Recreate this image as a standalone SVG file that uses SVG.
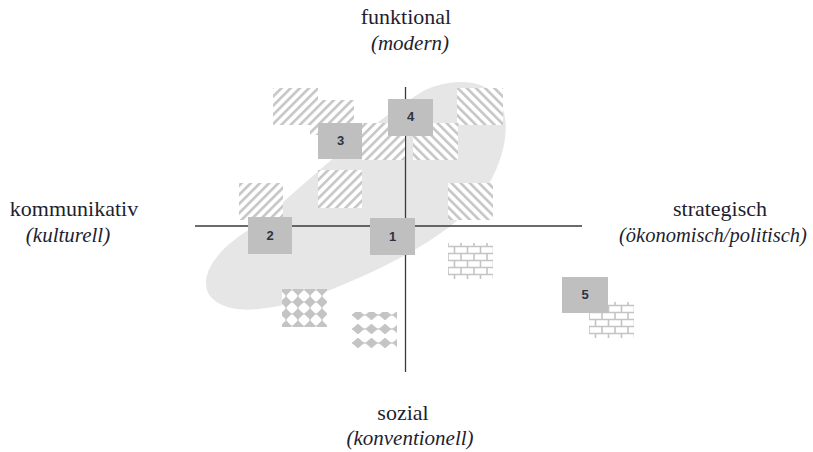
<svg xmlns="http://www.w3.org/2000/svg" width="813" height="452" viewBox="0 0 813 452">
  <defs>
    <!-- diagonal hatch, lines rising to the right -->
    <pattern id="hatchFwd" width="6.5" height="6.5" patternUnits="userSpaceOnUse" patternTransform="rotate(45)">
      <rect width="6.5" height="6.5" fill="#ffffff"/>
      <rect width="2.6" height="6.5" fill="#c6c6c6"/>
    </pattern>
    <!-- diagonal hatch, lines falling to the right -->
    <pattern id="hatchBwd" width="6.5" height="6.5" patternUnits="userSpaceOnUse" patternTransform="rotate(-45)">
      <rect width="6.5" height="6.5" fill="#ffffff"/>
      <rect width="2.6" height="6.5" fill="#c6c6c6"/>
    </pattern>
    <!-- brick wall -->
    <pattern id="brick" width="13" height="14" patternUnits="userSpaceOnUse">
      <rect width="13" height="14" fill="#ffffff"/>
      <path d="M0 3.5H13M0 10.5H13M6.5 3.5V10.5M0 0V3.5M0 10.5V14M13 0V3.5M13 10.5V14" stroke="#c4c4c4" stroke-width="1.6" fill="none"/>
    </pattern>
    <!-- chained diamonds -->
    <pattern id="chainA" x="-2" y="-5" width="12" height="12" patternUnits="userSpaceOnUse">
      <rect width="12" height="12" fill="#ffffff"/>
      <polygon points="6,1.2 10.8,6 6,10.8 1.2,6" fill="#c4c4c4" stroke="#c4c4c4" stroke-width="1.2" stroke-linejoin="round"/>
      <path d="M0 6H12M6 0V12" stroke="#c4c4c4" stroke-width="1"/>
    </pattern>
    <!-- chained diamonds on horizontal threads -->
    <pattern id="chainB" x="-0.75" y="-4" width="13.5" height="14" patternUnits="userSpaceOnUse">
      <rect width="13.5" height="14" fill="#ffffff"/>
      <polygon points="6.75,2.5 12,7 6.75,11.5 1.5,7" fill="#c4c4c4" stroke="#c4c4c4" stroke-width="1.2" stroke-linejoin="round"/>
      <path d="M0 7H13.5" stroke="#c4c4c4" stroke-width="1.2"/>
    </pattern>
  </defs>

  <!-- shaded zone -->
  <path id="zone" d="M206,283 C206,262 230,240 257,225 C300,188 370,122 425,90 C452,78 486,78 499,100 C512,122 506,160 482,195 C456,230 400,262 330,290 C290,306 245,316 222,305 C210,299 206,292 206,283 Z" fill="#e6e6e6"/>

  <!-- axes -->
  <g id="axes" stroke="#3a3a3a" stroke-width="1.3" fill="none">
    <line x1="195" y1="226" x2="582" y2="226"/>
    <line x1="405.5" y1="87" x2="405.5" y2="372"/>
  </g>

  <!-- textured fields -->
  <g id="fields">
    <g fill="url(#hatchFwd)">
      <rect x="273" y="88" width="45" height="37"/>
      <rect x="310" y="100" width="44" height="35"/>
      <rect x="362" y="123" width="43" height="37"/>
      <rect x="239" y="183" width="44" height="37"/>
      <rect x="318" y="170" width="44" height="38"/>
    </g>
    <g fill="url(#hatchBwd)">
      <rect x="413" y="123" width="45" height="37"/>
      <rect x="457" y="88" width="46" height="37"/>
      <rect x="448" y="183" width="45" height="37"/>
    </g>
    <g transform="translate(448,243)"><rect fill="url(#brick)" width="45" height="36"/></g>
    <g transform="translate(589,302)"><rect fill="url(#brick)" width="45" height="36"/></g>
    <g transform="translate(282,289)"><rect fill="url(#chainA)" width="45" height="38"/></g>
    <g transform="translate(352,312)"><rect fill="url(#chainB)" width="45" height="38"/></g>
  </g>

  <!-- numbered markers -->
  <g font-family="Liberation Sans" font-size="13" font-weight="bold" text-anchor="middle">
    <g id="node1"><rect fill="#bfbfbf" x="370" y="218" width="45" height="37"/><text fill="#2e3240" x="392.5" y="241">1</text></g>
    <g id="node2"><rect fill="#bfbfbf" x="248" y="217" width="44" height="37"/><text fill="#2e3240" x="270" y="240">2</text></g>
    <g id="node3"><rect fill="#bfbfbf" x="318" y="123" width="44" height="36"/><text fill="#2e3240" x="340.5" y="145">3</text></g>
    <g id="node4"><rect fill="#bfbfbf" x="388" y="99" width="45" height="37"/><text fill="#2e3240" x="410.5" y="121">4</text></g>
    <g id="node5"><rect fill="#bfbfbf" x="562" y="277" width="46" height="36"/><text fill="#2e3240" x="585" y="299">5</text></g>
  </g>

  <!-- axis labels -->
  <g id="labels" fill="#1e1e30" text-anchor="middle">
    <text font-family="Liberation Serif" font-size="22" x="406" y="24">funktional</text>
    <text font-family="Liberation Serif" font-size="21" font-style="italic" x="410" y="50">(modern)</text>
    <text font-family="Liberation Serif" font-size="22" x="74" y="216">kommunikativ</text>
    <text font-family="Liberation Serif" font-size="21" font-style="italic" x="68" y="242">(kulturell)</text>
    <text font-family="Liberation Serif" font-size="22" x="720" y="216">strategisch</text>
    <text font-family="Liberation Serif" font-size="20.5" font-style="italic" x="713" y="242">(&#246;konomisch/politisch)</text>
    <text font-family="Liberation Serif" font-size="22" x="403" y="420">sozial</text>
    <text font-family="Liberation Serif" font-size="21" font-style="italic" x="410" y="445">(konventionell)</text>
  </g>
</svg>
